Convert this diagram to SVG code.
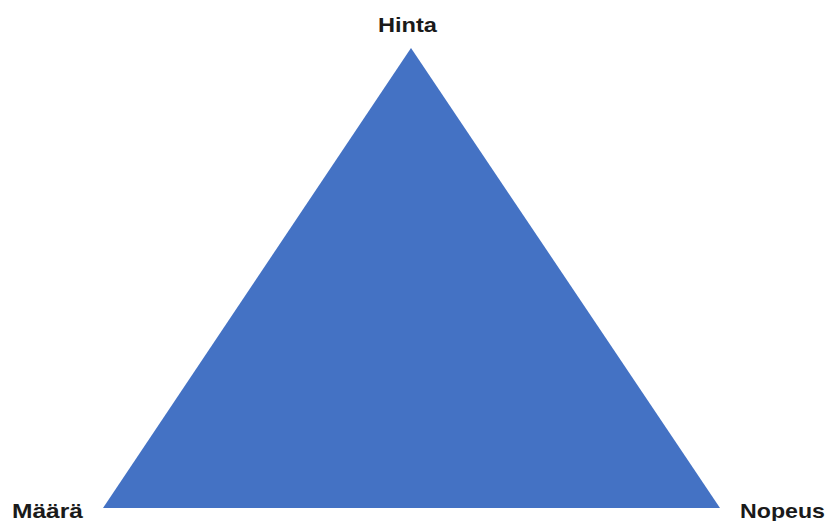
<svg xmlns="http://www.w3.org/2000/svg" width="826" height="521" viewBox="0 0 826 521">
  <style>
    .label { font-family: "Liberation Sans", Arial, sans-serif; font-weight: bold; font-size: 21px; fill: #1a1a1a; }
  </style>
  <rect width="826" height="521" fill="#ffffff"/>
  <g id="triangle">
    <polygon points="411,48 103,508 720,508" fill="#4472C4"/>
  </g>
  <g id="label-hinta">
    <text class="label" x="407.5" y="32" text-anchor="middle" textLength="59" lengthAdjust="spacingAndGlyphs">Hinta</text>
  </g>
  <g id="label-maara">
    <text class="label" x="12" y="518" textLength="71" lengthAdjust="spacingAndGlyphs">Määrä</text>
  </g>
  <g id="label-nopeus">
    <text class="label" x="740" y="518" textLength="85" lengthAdjust="spacingAndGlyphs">Nopeus</text>
  </g>
</svg>
